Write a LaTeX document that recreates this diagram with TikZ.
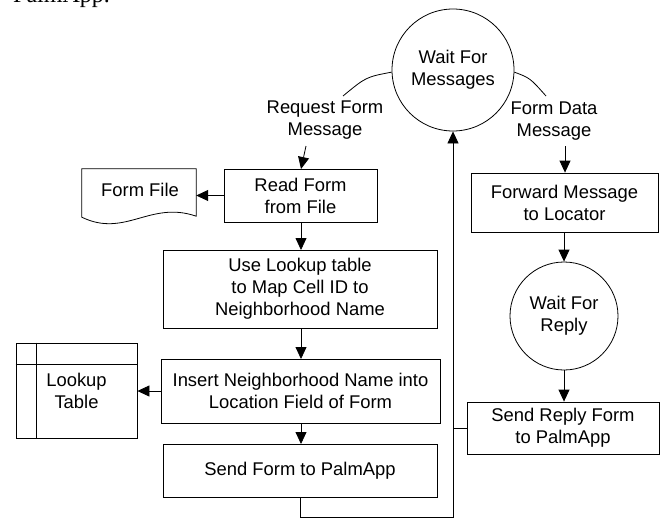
\documentclass[tikz,border=0pt]{standalone}
\usepackage{fontspec}
\setmainfont{Liberation Sans}
\newfontfamily\serifdoc{Liberation Serif}
\usetikzlibrary{arrows.meta,calc}
\begin{document}
\begin{tikzpicture}[x=1pt,y=-1pt,
  every node/.style={font=\fontsize{18.4}{22}\selectfont, align=center, inner sep=0pt},
  proc/.style={draw, rectangle, line width=0.8pt},
  state/.style={draw, circle, line width=0.8pt},
  conn/.style={line width=0.8pt},
  arr/.style={conn, -{Triangle[length=12pt,width=11pt]}},
  plain/.style={rectangle}]
\useasboundingbox (0,0) rectangle (660,519);
\node[anchor=base west, font=\serifdoc\fontsize{24}{28}\selectfont] (cap) at (13,2.5) {PalmApp.};

% state nodes
\node[state, minimum size=122pt] (wm) at (453,70) {Wait For\\Messages};
\node[state, minimum size=108pt] (wr) at (564,316) {Wait For\\Reply};

% process boxes
\node[proc, minimum width=153pt, minimum height=53pt] (read) at (300.5,195.5) {Read Form\\from File};
\node[proc, minimum width=274pt, minimum height=78pt] (use) at (300,289) {Use Lookup table\\to Map Cell ID to\\Neighborhood Name};
\node[proc, minimum width=279pt, minimum height=64pt] (ins) at (300.5,391) {Insert Neighborhood Name into\\Location Field of Form};
\node[proc, minimum width=274pt, minimum height=53pt] (send) at (300,470.5) {Send Form to PalmApp};
\node[proc, minimum width=187pt, minimum height=59pt] (fwd) at (564.5,202.5) {Forward Message\\to Locator};
\node[proc, minimum width=192pt, minimum height=52pt] (rep) at (563,428) {Send Reply Form\\to PalmApp};

% labels
\node (lreq) at (325,120) {Request Form\\Message};
\node (lfd) at (554,121) {Form Data\\Message};

% form file (document shape)
\node[plain, minimum width=114pt, minimum height=47pt] (ff) at (139,192.5) {};
\node at (140,190) {Form File};
\draw[conn] (ff.south west) -- (ff.north west) -- (ff.north east) -- (ff.south east)
  .. controls ($(ff.south east)+(-46,-16)$) and ($(ff.south east)+(-71,22)$) .. ($(ff.south west)+(0,1)$) -- cycle;

% lookup table
\node[proc, minimum width=121pt, minimum height=95pt] (lt) at (76.5,390.5) {Lookup\\Table};
\draw[conn] ($(lt.north west)+(21,0)$) -- ($(lt.south west)+(21,0)$);
\draw[conn] ($(lt.north west)+(0,22)$) -- ($(lt.north east)+(0,22)$);

% curved connectors from Wait For Messages
\coordinate (la) at (343,96);
\coordinate (ra) at (546,96);
\draw[conn] (wm.182) .. controls (366,77) .. (la);
\draw[conn] (wm.-2) .. controls (530,78) .. (ra);

% arrows
\coordinate (reqs) at (306,146);
\draw[arr] (reqs) -- (301,169);
\coordinate (fds) at (565,146);
\draw[arr] (fds) -- (fds |- fwd.north);
\draw[arr] (read.west) -- (read.west -| ff.east);
\draw[arr] (301,222) -- (301,250);
\draw[arr] (301,328) -- (301,359);
\draw[arr] (301,423) -- (301,444);
\draw[arr] (ins.west) -- (ins.west -| lt.east);
\draw[arr] (fwd.south -| wr.north) -- (wr.north);
\draw[arr] (wr.south) -- (wr.south |- rep.north);

% feedback loop
\draw[arr] (send.south) -- ++(0,20) -| (wm.south);
\draw[conn] (rep.west) -- (rep.west -| wm.south);
\end{tikzpicture}
\end{document}
